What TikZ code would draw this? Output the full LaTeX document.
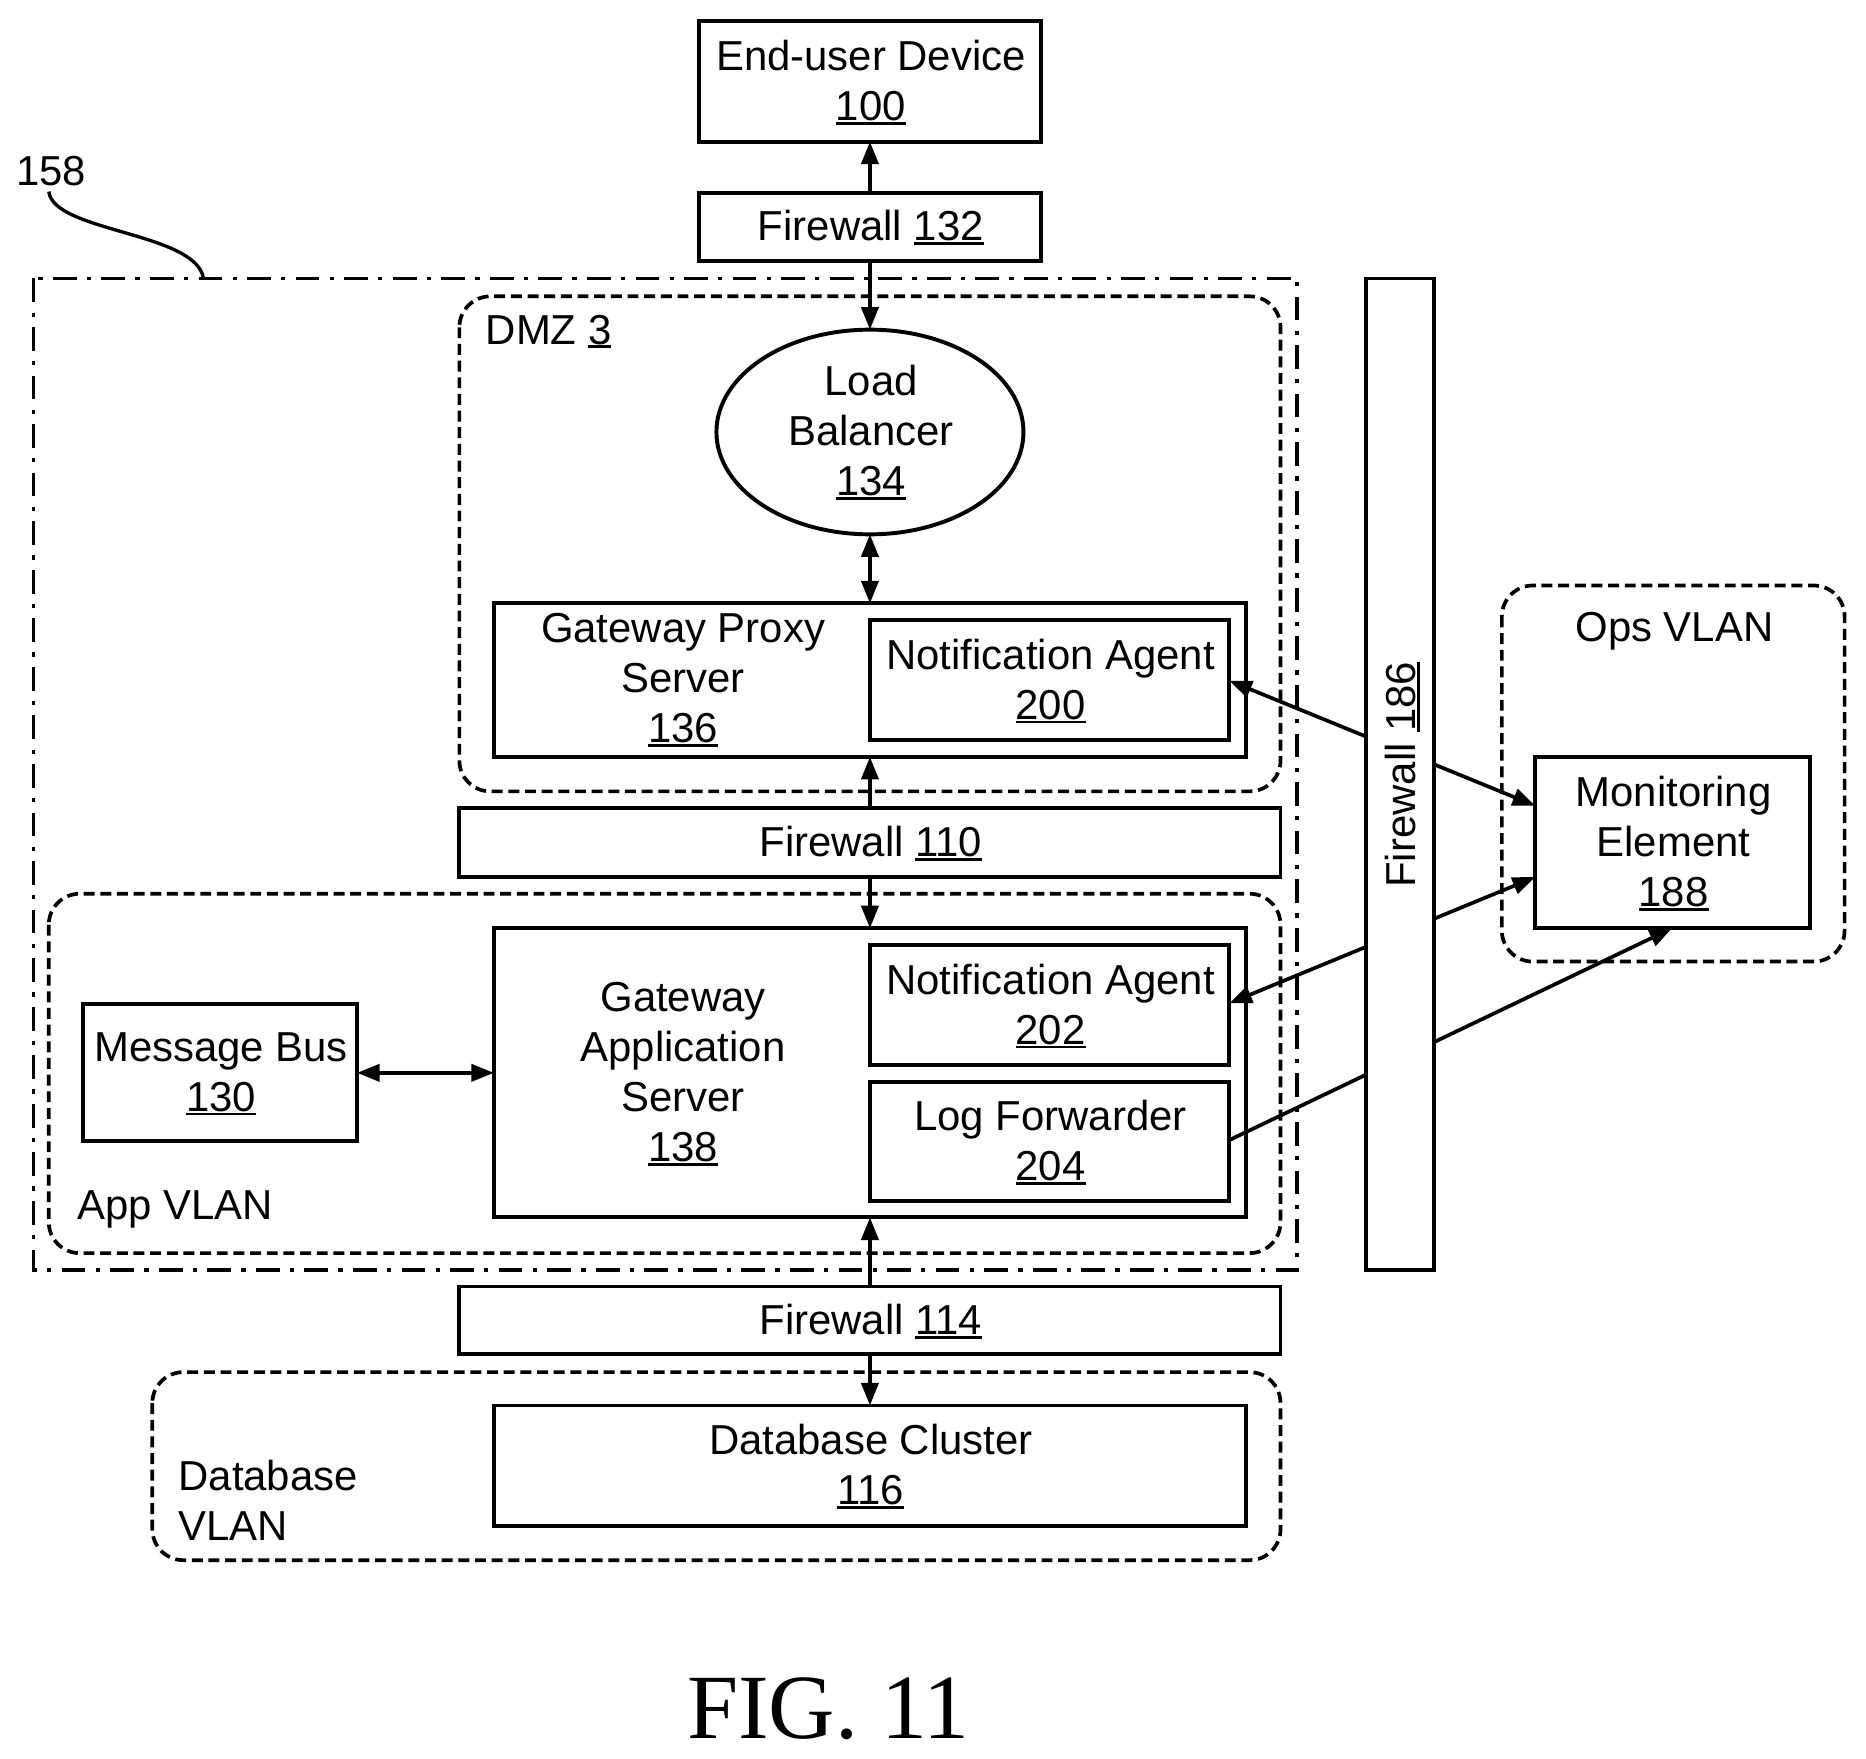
\documentclass[tikz,border=0pt]{standalone}
\usepackage{fontspec}
\setmainfont{Liberation Sans}
\newfontfamily\figfont{Liberation Serif}
\usetikzlibrary{arrows.meta,shapes.geometric}
\newcommand{\ul}[1]{\setbox0=\hbox{#1}\leavevmode\rlap{\smash{\raisebox{-1.7pt}{\rule{\wd0}{1.1pt}}}}\box0\relax}
\tikzset{
  x=0.5pt,y=-0.5pt,
  base/.style={font=\fontsize{17.6}{21}\selectfont,align=center,inner sep=0pt,outer sep=0pt},
  box/.style={draw=black,line width=1.65pt,fill=white,inner sep=0pt,outer sep=0pt},
  plain/.style={base},
  zone/.style={draw=black,line width=1.55pt,rounded corners=13pt,dash pattern=on 4.6pt off 2.4pt},
  outerzone/.style={draw=black,line width=1.5pt,dash pattern=on 10pt off 4.3pt on 1.8pt off 4.3pt},
  conn/.style={draw=black,line width=1.55pt,-{Triangle[length=9.5pt,width=7.2pt]}},
  both/.style={conn,{Triangle[length=9.5pt,width=7.2pt]}-{Triangle[length=9.5pt,width=7.2pt]}},
  bare/.style={draw=black,line width=1.4pt},
}
\newcommand{\bxe}[5]{% name, x1,y1,x2,y2
  \node[box,minimum width={(#4-#2)*0.5pt},minimum height={(#5-#3)*0.5pt}] (#1) at ({(#2+#4)/2},{(#3+#5)/2}) {};}
\newcommand{\bx}[6]{% name, x1,y1,x2,y2, text
  \bxe{#1}{#2}{#3}{#4}{#5}
  \node[plain] (#1t) at ([xshift=0.4pt,yshift=0.3pt]#1.center) {#6};}
\begin{document}
\begin{tikzpicture}
\useasboundingbox (0,0) rectangle (1568,1478);
\fill[white] (0,0) rectangle (1568,1478);

% zones
\draw[outerzone] (28,234) rectangle (1090,1067);
\draw[zone] (386,249) rectangle (1076,665);
\draw[zone] (41,751) rectangle (1076,1053);
\draw[zone] (128,1153) rectangle (1076,1311);
\draw[zone] (1262,492) rectangle (1550,808);

% boxes
\bx{enduser}{587}{18}{875}{119}{End-user Device\\\ul{100}}
\bx{fwA}{587}{162}{875}{219}{Firewall \ul{132}}
\node[draw=black,line width=1.65pt,ellipse,minimum width=129pt,minimum height=86pt,inner sep=0pt,outer sep=0pt] (lb) at (731,363) {};
\node[plain] (lbt) at (732,362) {Load\\Balancer\\\ul{134}};
\bxe{proxy}{415}{507}{1047}{636}
\node[plain] (proxyt) at (574,570) {Gateway Proxy\\Server\\\ul{136}};
\bx{agentA}{731}{521}{1033}{622}{Notification Agent\\\ul{200}}
\bx{fwB}{386}{679}{1076}{737}{Firewall \ul{110}}
\bxe{app}{415}{780}{1047}{1023}
\node[plain] (appt) at (574,901) {Gateway\\Application\\Server\\\ul{138}};
\bx{agentB}{731}{794}{1033}{895}{Notification Agent\\\ul{202}}
\bx{logf}{731}{909}{1033}{1009}{Log Forwarder\\\ul{204}}
\bx{bus}{70}{844}{300}{959}{Message Bus\\\ul{130}}
\bx{fwC}{386}{1081}{1076}{1138}{Firewall \ul{114}}
\bx{db}{415}{1181}{1047}{1282}{Database Cluster\\\ul{116}}
\bx{mon}{1290}{636}{1521}{780}{Monitoring\\Element\\\ul{188}}

% labels
\node[plain] (dmz) at (461,277) {DMZ \ul{3}};
\node[plain] (applabel) at (147,1016) {App VLAN};
\node[plain,align=left,anchor=west] (dblabel) at (150,1261) {Database\\VLAN};
\node[plain] (opslabel) at (1407,530) {Ops VLAN};
\node[plain] (num) at (43,144) {158};
\coordinate (numfoot) at (41,161);
\coordinate (outertop) at (171,234);
\draw[bare] (numfoot) .. controls (45,195) and (165,195) .. (outertop);

% connectors
\draw[conn] (fwA.north) -- (enduser.south);
\draw[conn] (fwA.south) -- (lb.north);
\draw[both] (lb.south) -- (proxy.north -| lb.south);
\draw[conn] (fwB.north) -- (proxy.south);
\draw[conn] (fwB.south) -- (app.north);
\draw[conn] (fwC.north) -- (app.south);
\draw[conn] (fwC.south) -- (db.north);
\draw[both] (bus.east) -- (bus.east -| app.west);
\coordinate (agentAend) at (1033,572);
\coordinate (monA) at (1290,677);
\coordinate (agentBend) at (1033,843);
\coordinate (monB) at (1290,737);
\coordinate (logend) at (1033,958);
\coordinate (monC) at (1405,780);
\draw[both] (agentAend) -- (monA);
\draw[both] (agentBend) -- (monB);
\draw[conn] (logend) -- (monC);

\bxe{fwD}{1148}{234}{1205}{1067}
\node[plain,rotate=90] (fwDt) at (1177,651) {Firewall \ul{186}};

\node[font=\figfont\fontsize{38.6}{41}\selectfont,inner sep=0pt] (fig) at (696,1436) {FIG. 11};
\end{tikzpicture}
\end{document}
